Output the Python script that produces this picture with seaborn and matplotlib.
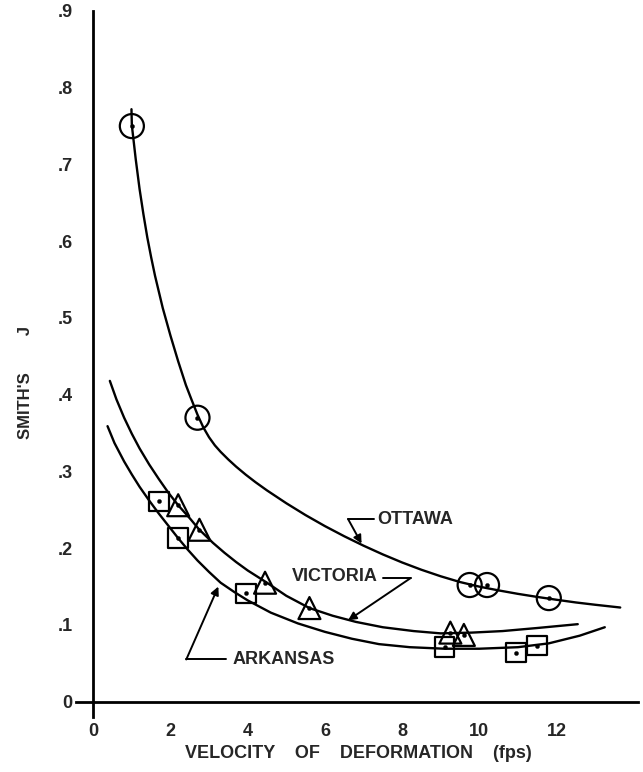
import matplotlib
matplotlib.use("Agg")
import matplotlib.pyplot as plt
import seaborn as sns
import pandas as pd

# ---- measured data points ----
ottawa_x = [1.0, 2.7, 9.75, 10.2, 11.8]
ottawa_y = [0.750, 0.370, 0.152, 0.152, 0.135]

victoria_x = [2.2, 2.75, 4.45, 5.6, 9.25, 9.6]
victoria_y = [0.256, 0.224, 0.155, 0.122, 0.090, 0.087]

arkansas_x = [1.7, 2.2, 3.95, 9.1, 10.95, 11.5]
arkansas_y = [0.261, 0.213, 0.141, 0.071, 0.064, 0.073]

# ---- curves ----
ottawa_curve_x = [0.99, 1.0, 1.1, 1.2, 1.3, 1.4, 1.5, 1.6, 1.8, 2.0, 2.2, 2.4, 2.55, 2.7,
                  2.85, 3.0, 3.15, 3.3, 3.5, 3.7, 3.95, 4.2, 4.5, 5.0, 5.5, 6.0, 6.5,
                  7.0, 7.5, 8.0, 8.5, 9.0, 9.5, 10.0, 10.5, 11.0, 11.5, 12.0, 12.5,
                  13.0, 13.65]
ottawa_curve_y = [0.772, 0.751, 0.707, 0.668, 0.635, 0.605, 0.579, 0.555, 0.513, 0.477,
                  0.4435, 0.4125, 0.393, 0.374, 0.3575, 0.3445, 0.334, 0.3255, 0.3155,
                  0.3063, 0.2958, 0.2861, 0.2753, 0.2586, 0.2431, 0.2288, 0.2156, 0.2033,
                  0.1919, 0.1814, 0.1719, 0.1634, 0.1559, 0.1499, 0.145, 0.1405, 0.1365,
                  0.1328, 0.1293, 0.1263, 0.1227]

victoria_curve_x = [0.43, 0.6, 0.8, 1.0, 1.2, 1.45, 1.7, 1.95, 2.2, 2.5, 2.75, 3.1, 3.4,
                    3.7, 4.0, 4.5, 5.0, 5.6, 6.2, 6.8, 7.5, 8.3, 9.0, 9.8, 10.6, 11.5, 12.55]
victoria_curve_y = [0.418, 0.394, 0.370, 0.349, 0.330, 0.309, 0.290, 0.272, 0.256, 0.239,
                    0.224, 0.207, 0.194, 0.182, 0.171, 0.155, 0.138, 0.122, 0.112, 0.104,
                    0.097, 0.092, 0.089, 0.090, 0.092, 0.096, 0.101]

arkansas_curve_x = [0.37, 0.55, 0.8, 1.0, 1.2, 1.45, 1.7, 1.95, 2.2, 2.45, 2.7, 3.0, 3.3,
                    3.65, 4.0, 4.6, 5.3, 6.0, 6.7, 7.4, 8.2, 9.1, 10.0, 11.0, 11.8, 12.6, 13.25]
arkansas_curve_y = [0.359, 0.337, 0.313, 0.296, 0.280, 0.262, 0.245, 0.229, 0.213, 0.198,
                    0.184, 0.169, 0.155, 0.143, 0.132, 0.116, 0.102, 0.091, 0.082, 0.075,
                    0.071, 0.069, 0.069, 0.071, 0.076, 0.086, 0.097]

x_ticks = [0, 2, 4, 6, 8, 10, 12]
x_tick_labels = ["0", "2", "4", "6", "8", "10", "12"]
y_ticks = [0, 0.1, 0.2, 0.3, 0.4, 0.5, 0.6, 0.7, 0.8, 0.9]
y_tick_labels = ["0", ".1", ".2", ".3", ".4", ".5", ".6", ".7", ".8", ".9"]

sns.set_style("white")
plt.rcParams['font.family'] = ['Liberation Sans', 'DejaVu Sans']
plt.rcParams['font.weight'] = 'bold'

fig = plt.figure(figsize=(6.43, 7.72), dpi=100)
ax = fig.add_axes([0.118, 0.0712, 0.8736, 0.9146])

curves = [
    (ottawa_curve_x, ottawa_curve_y),
    (victoria_curve_x, victoria_curve_y),
    (arkansas_curve_x, arkansas_curve_y),
]
for cx, cy in curves:
    df = pd.DataFrame({"x": cx, "y": cy})
    sns.lineplot(data=df, x="x", y="y", ax=ax, color="black", lw=1.7,
                 sort=False, estimator=None)

series = [
    (ottawa_x, ottawa_y, "o", 300),
    (victoria_x, victoria_y, "^", 250),
    (arkansas_x, arkansas_y, "s", 200),
]
for px, py, mk, sz in series:
    df = pd.DataFrame({"x": px, "y": py})
    sns.scatterplot(data=df, x="x", y="y", ax=ax, marker=mk, s=sz,
                    facecolors="none", edgecolor="black", linewidth=1.6, zorder=3)
    sns.scatterplot(data=df, x="x", y="y", ax=ax, marker="o", s=9,
                    color="black", edgecolor="black", zorder=4)

ax.set_xlim(-0.45, 14.1)
ax.set_ylim(-0.02, 0.9)
ax.spines['left'].set_position(('data', 0))
ax.spines['bottom'].set_position(('data', 0))
for s in ['top', 'right']:
    ax.spines[s].set_visible(False)
for s in ['left', 'bottom']:
    ax.spines[s].set_linewidth(2)
    ax.spines[s].set_color('black')

ax.set_xticks(x_ticks)
ax.set_xticklabels(x_tick_labels)
ax.set_yticks(y_ticks)
ax.set_yticklabels(y_tick_labels)
ax.tick_params(axis='both', direction='out', length=10, width=2, color='black',
               labelsize=13, pad=5)
for lab in ax.get_xticklabels() + ax.get_yticklabels():
    lab.set_fontweight('bold')

ax.set_xlabel("")
ax.set_ylabel("")
fig.text(0.557, 0.013, "VELOCITY    OF    DEFORMATION    (fps)", ha='center', va='bottom',
         fontsize=13, fontweight='bold')
fig.text(0.039, 0.504, "SMITH'S        J", rotation=90, ha='center', va='center',
         fontsize=12, fontweight='bold')

# annotations
ax.text(7.35, 0.238, "OTTAWA", ha='left', va='center', fontsize=13, fontweight='bold')
ax.plot([6.6, 7.28], [0.238, 0.238], color='black', lw=1.4)
ax.annotate("", xy=(6.95, 0.206), xytext=(6.6, 0.238),
            arrowprops=dict(arrowstyle='-|>', color='black', lw=1.4, mutation_scale=12,
                            shrinkA=0, shrinkB=0))

ax.text(5.15, 0.163, "VICTORIA", ha='left', va='center', fontsize=13, fontweight='bold')
ax.plot([7.5, 8.22], [0.161, 0.161], color='black', lw=1.4)
ax.annotate("", xy=(6.6, 0.106), xytext=(8.22, 0.161),
            arrowprops=dict(arrowstyle='-|>', color='black', lw=1.4, mutation_scale=12,
                            shrinkA=0, shrinkB=0))

ax.text(3.6, 0.055, "ARKANSAS", ha='left', va='center', fontsize=13, fontweight='bold')
ax.plot([2.41, 3.45], [0.055, 0.055], color='black', lw=1.4)
ax.annotate("", xy=(3.24, 0.150), xytext=(2.41, 0.055),
            arrowprops=dict(arrowstyle='-|>', color='black', lw=1.4, mutation_scale=12,
                            shrinkA=0, shrinkB=0))

fig.savefig("out.png", dpi=100)
